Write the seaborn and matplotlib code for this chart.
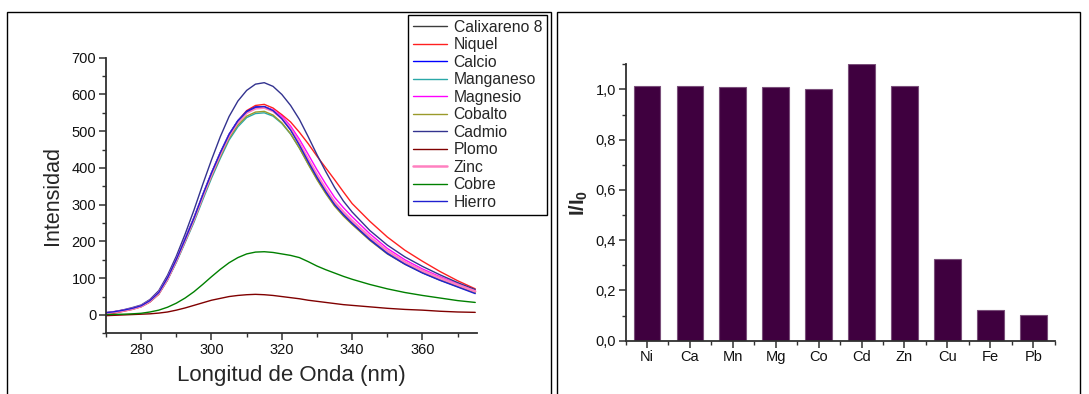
import numpy as np
import pandas as pd
import matplotlib
matplotlib.use("Agg")
import matplotlib.pyplot as plt
from matplotlib.patches import Rectangle
from matplotlib.ticker import MultipleLocator, FuncFormatter
import seaborn as sns

# ---- emission spectra (intensity vs wavelength, nm) ----
wavelength = [270, 272.5, 275, 277.5, 280, 282.5, 285, 287.5, 290, 292.5, 295, 297.5,
              300, 302.5, 305, 307.5, 310, 312.5, 315, 317.5, 320, 322.5, 325, 327.5,
              330, 332.5, 335, 337.5, 340, 345, 350, 355, 360, 365, 370, 375]

calixareno = [5, 8, 12, 17, 24, 38, 60, 100, 150, 205, 262, 325, 385, 440, 490, 527, 552, 564,
              566, 556, 535, 505, 465, 420, 377, 338, 303, 276, 252, 208, 170, 141, 117, 97, 79, 62]
niquel = [0, 5, 10, 15, 22, 35, 56, 95, 145, 200, 257, 320, 381, 437, 489, 528, 556, 570,
          573, 563, 545, 525, 497, 466, 432, 400, 368, 335, 303, 255, 212, 176, 146, 118, 93, 71]
calcio = [6, 9, 13, 18, 25, 39, 62, 102, 152, 208, 265, 327, 387, 442, 492, 529, 554, 566,
          567, 557, 536, 506, 466, 421, 378, 339, 304, 277, 253, 209, 171, 142, 118, 98, 80, 63]
manganeso = [5, 8, 12, 16, 23, 36, 57, 95, 143, 197, 252, 313, 372, 426, 476, 512, 537, 548,
             550, 541, 521, 492, 454, 411, 370, 332, 298, 271, 248, 205, 168, 139, 115, 95, 77, 60]
magnesio = [5, 8, 12, 17, 24, 38, 59, 98, 148, 203, 260, 322, 382, 437, 487, 524, 550, 562,
            565, 558, 541, 514, 478, 437, 395, 356, 320, 292, 267, 221, 181, 150, 125, 104, 85, 66]
cobalto = [5, 8, 12, 17, 24, 37, 58, 97, 146, 200, 256, 318, 377, 431, 481, 517, 541, 552,
           554, 544, 523, 493, 454, 410, 368, 330, 296, 269, 246, 203, 166, 138, 115, 95, 78, 61]
cadmio = [6, 9, 14, 20, 27, 42, 66, 108, 160, 220, 285, 355, 422, 485, 540, 582, 611, 628,
          632, 622, 600, 570, 532, 485, 436, 390, 347, 310, 280, 230, 190, 158, 132, 109, 88, 69]
plomo = [-2, -1, 0, 1, 2, 3, 5, 8, 13, 19, 26, 33, 40, 45, 50, 53, 55, 56,
         55, 53, 50, 47, 44, 40, 37, 34, 31, 28, 26, 22, 18, 15, 13, 10, 8, 7]
zinc = [5, 8, 12, 17, 24, 38, 60, 99, 149, 204, 261, 323, 383, 438, 488, 525, 550, 562,
        564, 555, 535, 506, 467, 423, 381, 342, 307, 280, 256, 212, 174, 144, 120, 100, 82, 64]
cobre = [1, 1.5, 2, 3, 4.5, 8, 13, 21, 32, 46, 63, 83, 104, 124, 142, 156, 166, 171,
         172, 170, 166, 162, 156, 145, 133, 123, 114, 105, 97, 83, 71, 61, 53, 46, 39, 34]
hierro = [6, 9, 13, 18, 25, 39, 61, 101, 151, 206, 263, 326, 386, 441, 491, 528, 553, 565,
          567, 556, 534, 503, 462, 417, 374, 335, 300, 273, 249, 205, 167, 138, 114, 94, 76, 58]

series_names = ["Calixareno 8", "Niquel", "Calcio", "Manganeso", "Magnesio", "Cobalto",
                "Cadmio", "Plomo", "Zinc", "Cobre", "Hierro"]
series_values = [calixareno, niquel, calcio, manganeso, magnesio, cobalto,
                 cadmio, plomo, zinc, cobre, hierro]

# ---- relative intensity I/I0 per metal ion ----
metals = ["Ni", "Ca", "Mn", "Mg", "Co", "Cd", "Zn", "Cu", "Fe", "Pb"]
ratio = [1.015, 1.015, 1.009, 1.009, 1.0, 1.102, 1.015, 0.325, 0.123, 0.103]

line_colors = ["#3c3c3c", "#ff2020", "#0000ff", "#2aa8a8", "#ff00ff", "#9a9a2a",
               "#33338f", "#800000", "#ff80c0", "#008000", "#2020d0"]
line_widths = [1.0, 1.0, 1.0, 1.0, 1.0, 1.0, 1.0, 1.0, 1.8, 1.0, 1.0]

sns.set_theme(style="ticks")
plt.rcParams["font.family"] = ["Liberation Sans", "DejaVu Sans"]
plt.rcParams["mathtext.fontset"] = "custom"
plt.rcParams["mathtext.rm"] = "Liberation Sans"
plt.rcParams["mathtext.bf"] = "Liberation Sans:bold"

W, H = 1089, 394
fig = plt.figure(figsize=(W / 100, H / 100), dpi=100)
fig.patch.set_facecolor("white")

# panel frames
for x0, x1 in [(7, 551), (557, 1080)]:
    fig.add_artist(Rectangle((x0 / W, -0.02), (x1 - x0) / W, 1.02 - 12 / H,
                             transform=fig.transFigure, fill=False,
                             edgecolor="black", lw=1.0))

axis_color = "#303030"

# ---------------- left: spectra ----------------
ax1 = fig.add_axes([106 / W, 1 - 333.3 / H, 371 / W, 275.6 / H])
df = pd.DataFrame({"Longitud": wavelength * len(series_names),
                   "Intensidad": np.concatenate(series_values),
                   "Serie": np.repeat(series_names, len(wavelength))})
for name, col, lw in zip(series_names, line_colors, line_widths):
    sns.lineplot(data=df[df["Serie"] == name], x="Longitud", y="Intensidad",
                 color=col, lw=lw, label=name, ax=ax1, sort=False, estimator=None)

ax1.set_xlim(270, 375.5)
ax1.set_ylim(-50, 700)
ax1.xaxis.set_major_locator(MultipleLocator(20))
ax1.xaxis.set_minor_locator(MultipleLocator(10))
ax1.yaxis.set_major_locator(MultipleLocator(100))
ax1.yaxis.set_minor_locator(MultipleLocator(50))
ax1.set_xlabel("Longitud de Onda (nm)", fontsize=16, labelpad=6)
ax1.set_ylabel("Intensidad", fontsize=15.5, labelpad=6)

handles, labels = ax1.get_legend_handles_labels()
leg = ax1.legend(handles, labels, loc="upper left",
                 bbox_to_anchor=(408 / W, 1 - 15 / H), bbox_transform=fig.transFigure,
                 borderaxespad=0, fontsize=11.3, labelspacing=0.16, borderpad=0.3,
                 handlelength=2.2, handletextpad=0.4, fancybox=False, framealpha=1,
                 edgecolor="black")
leg.get_frame().set_linewidth(1.0)

# ---------------- right: I/I0 bars ----------------
ax2 = fig.add_axes([625.5 / W, 1 - 340.7 / H, 429.2 / W, 276.4 / H])
bars = pd.DataFrame({"Metal": metals, "Ratio": ratio})
sns.barplot(data=bars, x="Metal", y="Ratio", color="#3f003f", saturation=1,
            width=0.62, edgecolor="#7a4f7a", linewidth=0.8, ax=ax2)
ax2.set_xlim(-0.5, 9.5)
ax2.set_ylim(0, 1.1)
ax2.yaxis.set_major_locator(MultipleLocator(0.2))
ax2.yaxis.set_minor_locator(MultipleLocator(0.1))
ax2.yaxis.set_major_formatter(FuncFormatter(lambda v, p: f"{v:.1f}".replace(".", ",")))
ax2.xaxis.set_minor_locator(MultipleLocator(0.5))
ax2.set_xlabel("")
ax2.set_ylabel(r"$\mathbf{I/I_0}$", fontsize=14.5, labelpad=4)

for ax in (ax1, ax2):
    sns.despine(ax=ax)
    for s in ("left", "bottom"):
        ax.spines[s].set_color(axis_color)
        ax.spines[s].set_linewidth(1.3)
    ax.tick_params(which="major", direction="out", length=5, width=1.1,
                   color=axis_color, labelsize=10.5, labelcolor="#111111", pad=2)
    ax.tick_params(which="minor", direction="out", length=3, width=1.0, color=axis_color)
    ax.set_facecolor("white")

fig.savefig("out.png", dpi=100)
